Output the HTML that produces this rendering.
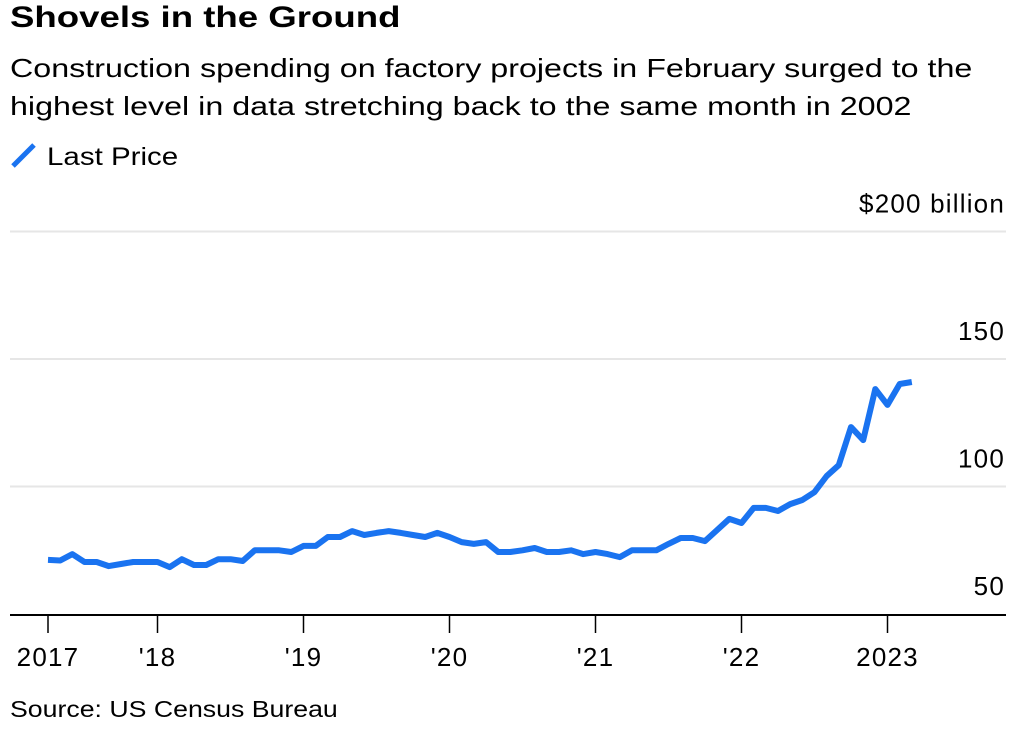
<!DOCTYPE html>
<html><head><meta charset="utf-8"><style>
body{margin:0;background:#fff;font-family:"Liberation Sans",Arial,sans-serif;color:#000;}
.wrap{position:relative;width:1018px;height:733px;overflow:hidden}
.t{position:absolute;left:10px;white-space:nowrap;transform-origin:0 0}
</style></head><body><div class="wrap">
<div class="t" style="top:1px;font-size:30px;font-weight:bold;transform:scaleX(1.22)">Shovels in the Ground</div>
<div class="t" style="top:49px;font-size:26px;line-height:38px;transform:scaleX(1.24)">Construction spending on factory projects in February surged to the<br>highest level in data stretching back to the same month in 2002</div>
<div class="t" style="top:143px;font-size:25px"><svg width="30" height="26" style="vertical-align:-4px"><line x1="3" y1="23" x2="24" y2="2" stroke="#1a73f0" stroke-width="5"/></svg> <span style="display:inline-block;transform:scaleX(1.18);transform-origin:0 0">Last Price</span></div>
<div class="t" style="top:696px;font-size:23px;transform:scaleX(1.16)">Source: US Census Bureau</div>
<svg id="s" width="1018" height="733" style="position:absolute;left:0;top:0"></svg>
</div>
<script>
const values=[71.2,71,73.5,70.4,70.4,68.8,69.6,70.4,70.4,70.4,68.4,71.5,69.2,69.2,71.5,71.5,70.8,75,75,75,74.3,76.7,76.7,80.2,80.2,82.5,81,81.8,82.5,81.8,81,80.2,81.8,80.2,78.2,77.5,78.2,74.3,74.3,75,75.9,74.3,74.3,75,73.5,74.3,73.5,72.3,75,75,75,77.5,79.8,79.8,78.6,83,87.3,85.7,91.6,91.6,90.4,93.1,94.7,97.8,104.1,108.4,123.3,118.2,138.2,132,140.2,141];
const yTicks=[50,100,150,200];
const yLabels=["50","100","150","$200 billion"];
const xTickYears=[2017.25,2018,2019,2020,2021,2022,2023];
const xLabels=["2017","'18","'19","'20","'21","'22","2023"];
const startYear=2017.25;
const NS="http://www.w3.org/2000/svg",s=document.getElementById('s');
const y=v=>614-(v-50)*2.55;
const x=t=>48+(t-startYear)*146;
function el(n,a){const e=document.createElementNS(NS,n);for(const k in a)e.setAttribute(k,a[k]);s.appendChild(e);return e;}
yTicks.forEach((v,i)=>{
 if(v>50){const g=el('line',{x1:10,x2:1006,y1:y(v),y2:y(v),stroke:'#e6e6e6','stroke-width':2});
 
 }
 const t=el('text',{x:1005,y:y(v)-19,'text-anchor':'end','font-size':26,'letter-spacing':1.2,'font-family':'Liberation Sans, sans-serif'});
 t.textContent=yLabels[i];
 
 
});
const ax=el('line',{x1:10,x2:1006,y1:615,y2:615,stroke:'#000','stroke-width':2});


xTickYears.forEach((t,i)=>{
 const tk=el('line',{x1:x(t),x2:x(t),y1:615,y2:633,stroke:'#000','stroke-width':1.5});
 
 
 const l=el('text',{x:x(t),y:666,'text-anchor':'middle','font-size':26,'letter-spacing':1.2,'font-family':'Liberation Sans, sans-serif'});
 l.textContent=xLabels[i];
 
 
});
const pts=values.map((v,i)=>x(startYear+i/12).toFixed(1)+','+y(v).toFixed(1)).join(' ');
const p=el('polyline',{points:pts,fill:'none',stroke:'#1a73f0','stroke-width':6,'stroke-linejoin':'round'});


</script></body></html>
